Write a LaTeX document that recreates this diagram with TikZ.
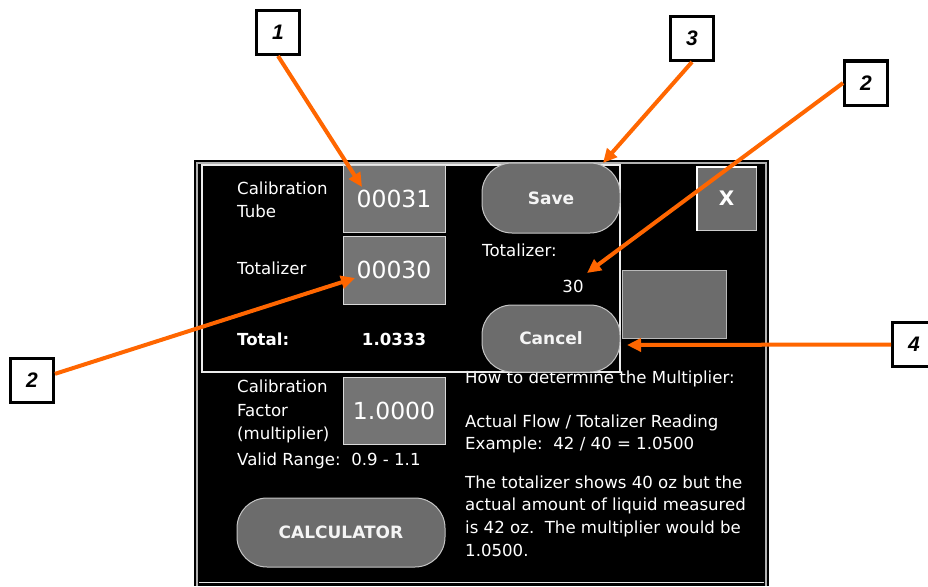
\documentclass[tikz,border=0pt]{standalone}
\usepackage{fontspec}
\usepackage{xcolor}
\usepackage{tikz}
\usetikzlibrary{arrows.meta}
\newfontfamily\lblfont{Liberation Sans}
\newfontfamily\scrfont{DejaVu Sans}
\definecolor{callorange}{RGB}{255,102,0}
\definecolor{btngray}{RGB}{108,108,108}
\definecolor{boxgray}{RGB}{116,116,116}

\tikzset{
  callout/.style={draw=black, line width=3pt, fill=white, minimum width=43pt, minimum height=44pt, inner sep=0pt, font=\lblfont\bfseries\itshape\fontsize{21}{21}\selectfont},
  pointer/.style={draw=callorange, line width=4pt, -{Triangle[length=14pt,width=13pt]}},
  numbox/.style={draw=gray!30, line width=1pt, fill=boxgray, minimum width=102pt, inner sep=0pt, text=white, font=\scrfont\fontsize{23.5}{23.5}\selectfont},
  pillbtn/.style={draw=gray!45, line width=1pt, fill=btngray, rounded corners=30pt, inner sep=0pt, text=white!92!gray, font=\scrfont\bfseries\fontsize{17}{17}\selectfont},
  scrtext/.style={text=white, inner sep=0pt, align=left, font=\scrfont\fontsize{16.6}{23}\selectfont}
}

\begin{document}
\begin{tikzpicture}[x=1pt,y=-1pt]
\useasboundingbox (0,0) rectangle (928,586);

% screen
\fill[black] (194,160) rectangle (769,586);
\draw[gray!60, line width=1.2pt] (197,586) |- (766,163) -- (766,586);
\draw[gray!20, line width=0.6pt] (199,582) -- (764,582);

% help text
\node[scrtext, anchor=west] (howto) at (465,379) {How to determine the Multiplier:};
\node[scrtext, anchor=west, font=\scrfont\fontsize{16.6}{22}\selectfont] (formula) at (465,434) {Actual Flow / Totalizer Reading\\Example:\ \ 42 / 40 = 1.0500};
\node[scrtext, anchor=west, font=\scrfont\fontsize{16.6}{22.7}\selectfont] (sample) at (465,516) {The totalizer shows 40 oz but the\\actual amount of liquid measured\\is 42 oz.\ \ The multiplier would be\\1.0500.};

% calibration frame
\draw[white!85!gray, line width=1.2pt] (202,165) rectangle (620,372);

\node[scrtext, anchor=west] (tubelbl) at (237,199.5) {Calibration\\Tube};
\node[numbox, minimum height=67pt] (tubeval) at (394,198.5) {00031};
\node[scrtext, anchor=west] (totlbl) at (237,268) {Totalizer};
\node[numbox, minimum height=68pt] (totval) at (394,270) {00030};
\node[scrtext, anchor=west, font=\scrfont\bfseries\fontsize{16.6}{16.6}\selectfont] (sumlbl) at (237,339) {Total:};
\node[scrtext, font=\scrfont\bfseries\fontsize{16.6}{16.6}\selectfont] (sumval) at (394,339) {1.0333};

\node[pillbtn, minimum width=138pt, minimum height=70pt] (save) at (551,198) {Save};
\node[scrtext, anchor=west] (countlbl) at (482,250) {Totalizer:};
\node[scrtext] (countval) at (573,286) {30};
\node[pillbtn, minimum width=138pt, minimum height=67pt] (cancel) at (551,338.5) {Cancel};

\node[draw=gray!40, line width=1pt, fill=btngray, minimum width=59pt, minimum height=63pt, inner sep=0pt, text=white, font=\scrfont\bfseries\fontsize{20}{20}\selectfont] (close) at (726.5,198.5) {X};
\draw[white, line width=2pt] (close.south west) |- (close.north east);
\draw[gray!55, line width=1pt, fill=btngray] (622,270) rectangle (726,338);

% factor area
\node[scrtext, anchor=west, font=\scrfont\fontsize{16.6}{23.5}\selectfont] (factlbl) at (237,411.5) {Calibration\\Factor\\(multiplier)};
\node[numbox, minimum height=67pt] (factval) at (394,410.5) {1.0000};
\node[scrtext, anchor=west] (range) at (237,461) {Valid Range:\ \ 0.9 - 1.1};
\node[pillbtn, minimum width=208pt, minimum height=69pt] (calc) at (341,532.5) {CALCULATOR};

% callouts
\node[callout] (c1) at (278,32.5) {1};
\node[callout] (c3) at (692,38.5) {3};
\node[callout] (c2a) at (866,83) {2};
\node[callout] (c2b) at (32,380) {2};
\node[callout] (c4) at (914,344.5) {4};

\coordinate (tubetip) at (362,187);
\coordinate (tottip) at (355,278);
\coordinate (savetip) at (603,163);
\coordinate (counttip) at (587,273);
\coordinate (canceltip) at (627,345);

\draw[pointer] (c1.south) -- (tubetip);
\draw[pointer] (c2b.15) -- (tottip);
\draw[pointer] (c3.south) -- (savetip);
\draw[pointer] (c2a.west) -- (counttip);
\draw[pointer] (c4.west) -- (canceltip);
\end{tikzpicture}
\end{document}
